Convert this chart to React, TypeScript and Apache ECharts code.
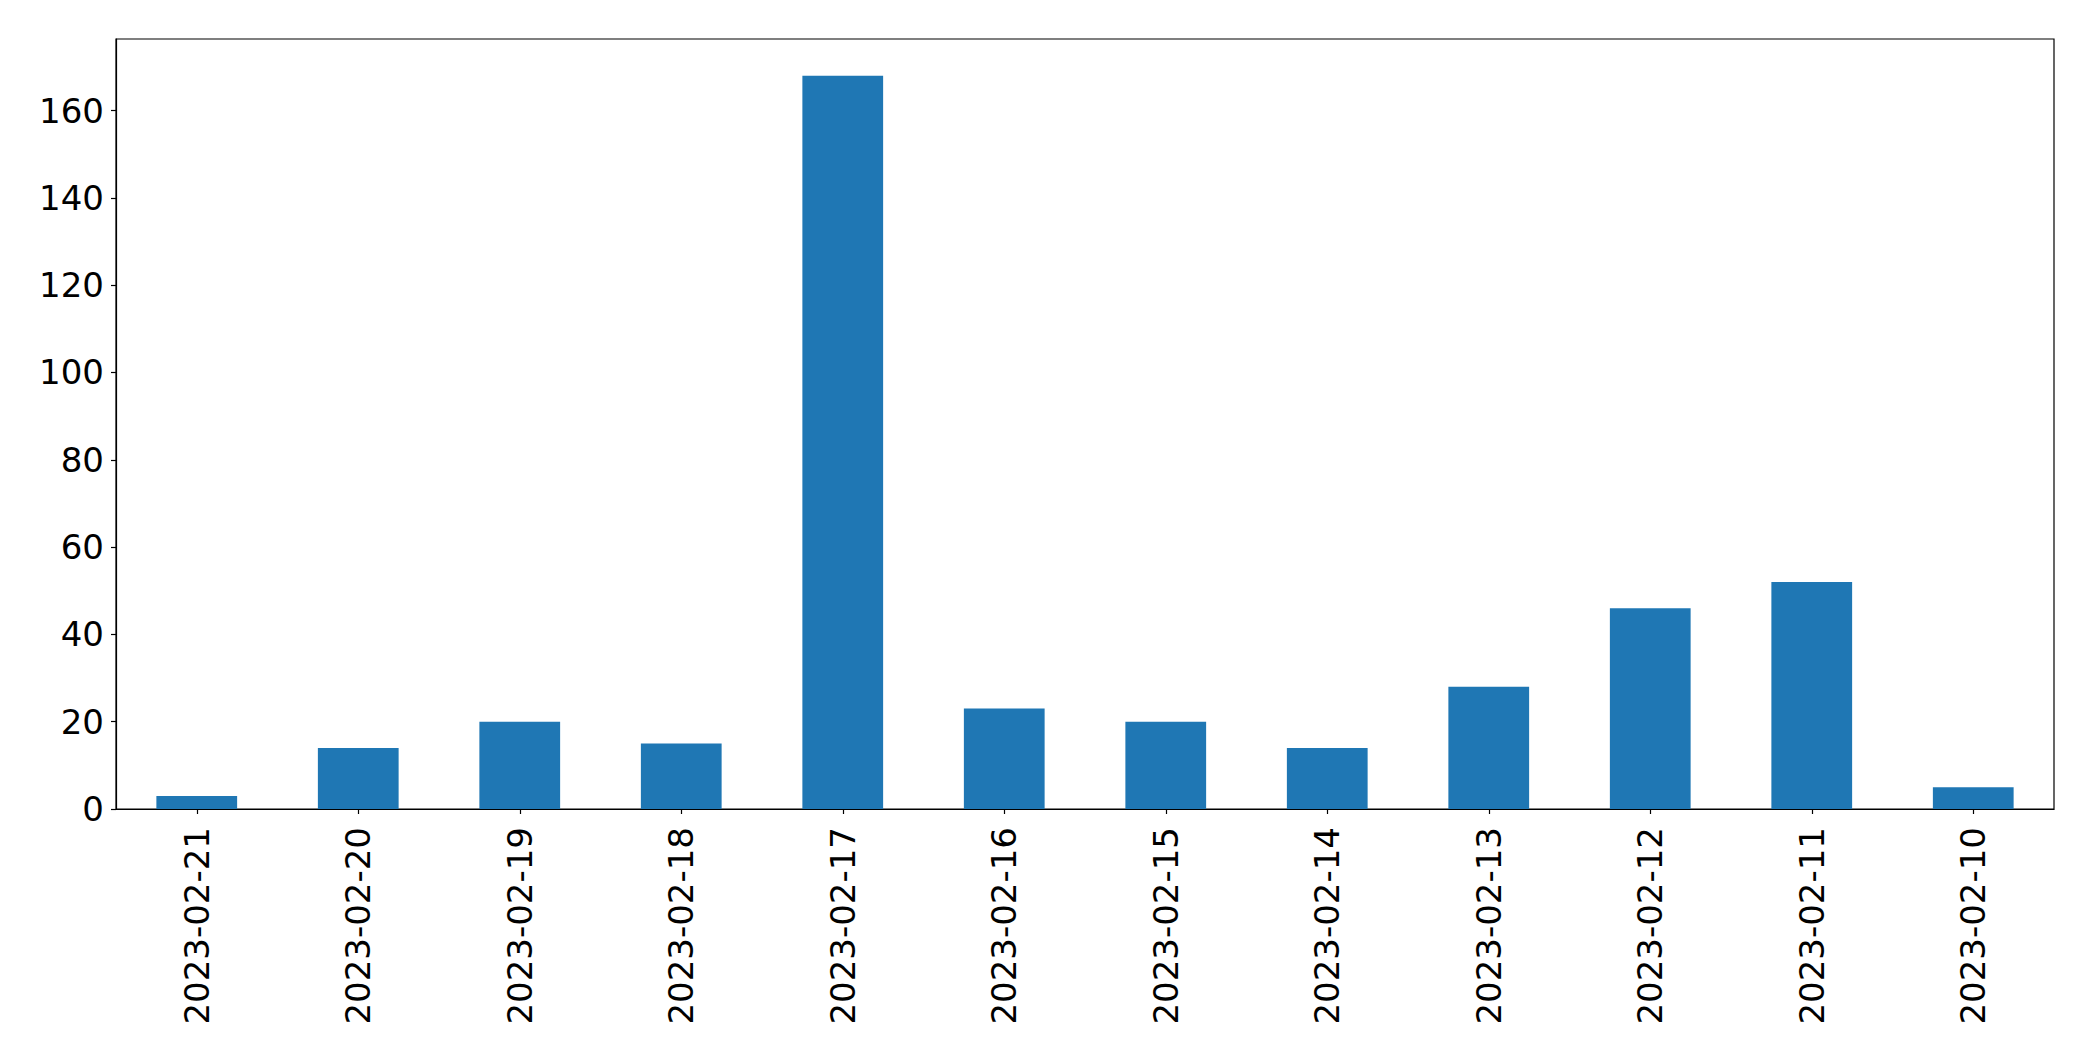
import React, { useEffect, useRef } from "react";
import * as echarts from "echarts";

const categories = [
  "2023-02-21", "2023-02-20", "2023-02-19", "2023-02-18", "2023-02-17", "2023-02-16",
  "2023-02-15", "2023-02-14", "2023-02-13", "2023-02-12", "2023-02-11", "2023-02-10",
];
const values = [3, 14, 20, 15, 168, 23, 20, 14, 28, 46, 52, 5];
const yTicks = [0, 20, 40, 60, 80, 100, 120, 140, 160];

export default function App() {
  const ref = useRef<HTMLDivElement>(null);
  useEffect(() => {
    document.body.style.margin = "0";
    if (!ref.current) return;
    const chart = echarts.init(ref.current, null, { renderer: "svg" });
    const font = "DejaVu Sans";
    chart.setOption({
      animation: false,
      backgroundColor: "#ffffff",
      grid: {
        left: 116, top: 39, right: 39, bottom: 252,
        show: true, borderColor: "#000", borderWidth: 1.2, backgroundColor: "transparent",
      },
      xAxis: {
        type: "category",
        data: categories,
        boundaryGap: true,
        axisLine: { show: true, lineStyle: { color: "#000", width: 1.2 } },
        axisTick: { show: true, alignWithLabel: true, length: 5, lineStyle: { color: "#000", width: 1.2 } },
        axisLabel: { rotate: 90, margin: 18, fontSize: 34, fontFamily: font, color: "#000", interval: 0 },
        splitLine: { show: false },
      },
      yAxis: {
        type: "value",
        min: 0,
        max: 176.4,
        interval: 20,
        axisLine: { show: true, lineStyle: { color: "#000", width: 1.2 } },
        axisTick: { show: true, length: 5, customValues: yTicks, lineStyle: { color: "#000", width: 1.2 } },
        axisLabel: {
          margin: 12, fontSize: 34, fontFamily: font, color: "#000",
          customValues: yTicks,
          formatter: (v: number) => (v % 20 === 0 ? String(v) : ""),
        },
        splitLine: { show: false },
      },
      series: [
        {
          type: "bar",
          data: values,
          barWidth: "50%",
          itemStyle: { color: "#1f77b4" },
        },
      ],
    });
    return () => chart.dispose();
  }, []);
  return <div ref={ref} style={{ width: 2093, height: 1061 }} />;
}
